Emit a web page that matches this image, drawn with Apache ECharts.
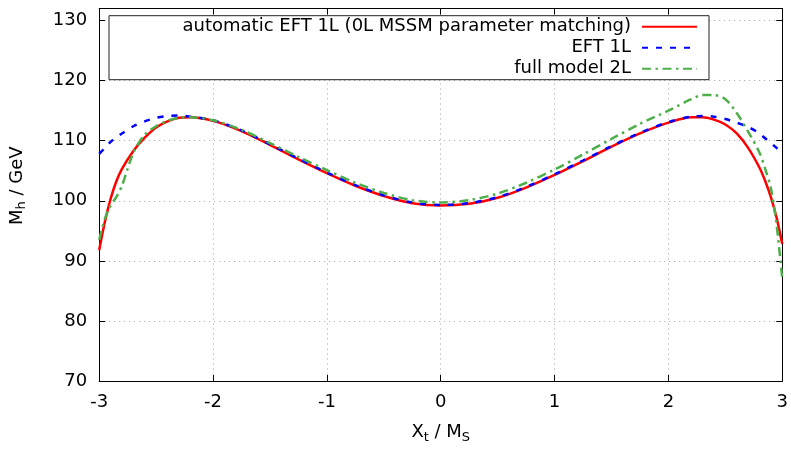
<!DOCTYPE html>
<html><head><meta charset="utf-8">
<script src="https://cdn.jsdelivr.net/npm/echarts@6/dist/echarts.min.js"></script>
<style>html,body{margin:0;padding:0;background:#fff}#c{width:791px;height:449px}</style>
</head><body><div id="c"></div>
<script>
// X_t / M_S sample positions
const xt = [-3, -2.95, -2.9, -2.85, -2.8, -2.7, -2.6, -2.5, -2.4, -2.3, -2.2, -2.0, -1.75, -1.5, -1.25, -1.0, -0.75, -0.5, -0.25, 0,
  0.25, 0.5, 0.75, 1.0, 1.25, 1.5, 1.75, 2.0, 2.2, 2.3, 2.4, 2.5, 2.6, 2.7, 2.8, 2.85, 2.9, 2.95, 3.0];
// automatic EFT 1L (0L MSSM parameter matching)
const mhAuto = [91.8, 96.5, 100.3, 103.2, 105.3, 108.3, 110.5, 112.2, 113.2, 113.8, 113.9, 113.3, 111.6, 109.3, 106.9, 104.6, 102.5, 100.8, 99.6, 99.2,
  99.5, 100.5, 102.2, 104.3, 106.6, 109.0, 111.2, 113.0, 113.9, 113.9, 113.5, 112.7, 111.2, 108.8, 105.5, 103.3, 100.6, 97.2, 92.8];
// EFT 1L
const mhEft = [107.8, 108.8, 109.8, 110.6, 111.2, 112.4, 113.2, 113.8, 114.1, 114.2, 114.0, 113.4, 111.7, 109.4, 107.0, 104.7, 102.6, 100.9, 99.7, 99.3,
  99.6, 100.6, 102.3, 104.4, 106.7, 109.1, 111.3, 113.1, 114.0, 114.1, 114.0, 113.6, 113.0, 112.3, 111.2, 110.4, 109.6, 108.8, 108.0];
// full model 2L
const mhFull = [93.5, 97.0, 99.2, 100.6, 102.5, 108.0, 111.0, 112.4, 113.3, 113.8, 113.9, 113.4, 111.8, 109.6, 107.3, 105.1, 103.0, 101.3, 100.1, 99.7,
  100.1, 101.2, 103.0, 105.2, 107.7, 110.3, 112.8, 115.0, 116.9, 117.6, 117.6, 116.9, 114.6, 111.5, 108.0, 105.3, 102.1, 96.0, 87.0];

const seriesNames = ['automatic EFT 1L (0L MSSM parameter matching)', 'EFT 1L', 'full model 2L'];
const xTickValues = [-3, -2, -1, 0, 1, 2, 3];
const yTickValues = [70, 80, 90, 100, 110, 120, 130];
const yTop = 132;

const FONT = 'DejaVu Sans';
const pairs = ys => xt.map((x, i) => [x, ys[i]]);

const gridLine = { show: true, lineStyle: { color: '#a0a0a0', width: 1, type: [1, 4] } };
const axLine = { show: true, onZero: false, lineStyle: { color: '#000', width: 1 } };
const axTick = { show: true, inside: true, length: 6, lineStyle: { color: '#000', width: 1 } };
const lblStyle = { color: '#000', fontFamily: FONT, fontSize: 18 };

const xMin = xTickValues[0], xMax = xTickValues[xTickValues.length - 1];
const xInt = xTickValues[1] - xTickValues[0];
const yMin = yTickValues[0], yInt = yTickValues[1] - yTickValues[0];

const chart = echarts.init(document.getElementById('c'), null, { renderer: 'canvas' });
chart.setOption({
  animation: false,
  backgroundColor: '#fff',
  grid: { left: 97.5, right: 7.3, top: 8.5, bottom: 62.3, containLabel: false },
  xAxis: [{
    type: 'value', min: xMin, max: xMax, interval: xInt, position: 'bottom',
    axisLine: axLine, axisTick: axTick, splitLine: gridLine,
    axisLabel: Object.assign({ margin: 12 }, lblStyle),
    name: '{n|X}{s|t}{n| / M}{s|S}', nameLocation: 'middle', nameGap: 40,
    nameTextStyle: { rich: { n: { fontFamily: FONT, fontSize: 18, color: '#000' }, s: { fontFamily: FONT, fontSize: 13, color: '#000', padding: [10, 0, 0, 0] } } }
  }, {
    type: 'value', min: xMin, max: xMax, interval: xInt, position: 'top',
    axisLine: axLine, axisTick: axTick, splitLine: { show: false }, axisLabel: { show: false }
  }],
  yAxis: [{
    type: 'value', min: yMin, max: yTop, interval: yInt, position: 'left',
    axisLine: axLine, axisTick: axTick, splitLine: gridLine,
    axisLabel: Object.assign({ margin: 12, showMaxLabel: false }, lblStyle),
    name: '{n|M}{s|h}{n| / GeV}', nameLocation: 'middle', nameGap: 70.7, nameRotate: 90,
    nameTextStyle: { padding: [0, 0, 0, 18], rich: { n: { fontFamily: FONT, fontSize: 18, color: '#000' }, s: { fontFamily: FONT, fontSize: 13, color: '#000', padding: [10, 0, 0, 0] } } }
  }, {
    type: 'value', min: yMin, max: yTop, interval: yInt, position: 'right',
    axisLine: axLine, axisTick: axTick, splitLine: { show: false }, axisLabel: { show: false }
  }],
  legend: {
    left: 109, top: 15.7, orient: 'vertical', align: 'right',
    backgroundColor: '#fff', borderColor: '#222', borderWidth: 1,
    padding: [0.5, 11, 0.5, 11],
    itemWidth: 55, itemHeight: 21, itemGap: 0,
    itemStyle: { opacity: 0 },
    textStyle: { fontFamily: FONT, fontSize: 18, color: '#000', width: 511, padding: [0, 6, 0, 0], lineHeight: 21 },
    data: seriesNames
  },
  series: [
    { name: seriesNames[0], type: 'line', data: pairs(mhAuto), smooth: 0.3, symbol: 'none', z: 3,
      lineStyle: { color: '#ff0000', width: 2.5 }, itemStyle: { color: '#ff0000' } },
    { name: seriesNames[1], type: 'line', data: pairs(mhEft), smooth: 0.3, symbol: 'none', z: 4,
      lineStyle: { color: '#0000ff', width: 2.5, type: [6, 8] }, itemStyle: { color: '#0000ff' } },
    { name: seriesNames[2], type: 'line', data: pairs(mhFull), smooth: 0.3, symbol: 'none', z: 5,
      lineStyle: { color: '#4daf4a', width: 2.5, type: [9, 4.5, 2.5, 4.5] }, itemStyle: { color: '#4daf4a' } }
  ]
});
</script>
</body></html>
